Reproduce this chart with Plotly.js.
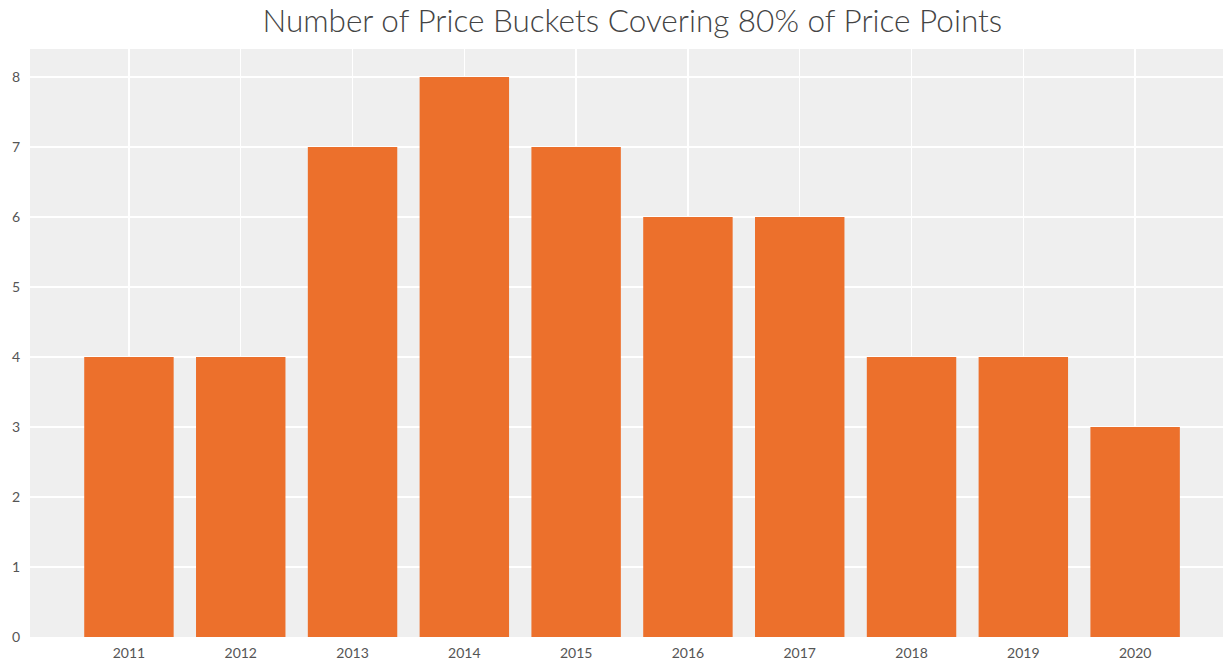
<!DOCTYPE html>
<html><head><meta charset="utf-8">
<script src="https://cdn.plot.ly/plotly-3.0.1.min.js"></script>
<style>html,body{margin:0;padding:0;background:#fff}</style>
</head><body>
<div id="chart" style="width:1223px;height:663px"></div>
<script>
const years = ["2011","2012","2013","2014","2015","2016","2017","2018","2019","2020"];
const buckets = [4,4,7,8,7,6,6,4,4,3];
const yTicks = [0,1,2,3,4,5,6,7,8];

Plotly.newPlot("chart", [{
  type: "bar",
  x: years,
  y: buckets,
  width: 0.8,
  marker: {color: "#EC702C"},
  hoverinfo: "x+y"
}], {
  width: 1223, height: 663,
  margin: {l: 30, r: 0, t: 49, b: 26, pad: 0},
  paper_bgcolor: "#ffffff",
  plot_bgcolor: "#EFEFEF",
  title: {text: "Number of Price Buckets Covering 80% of Price Points",
          font: {family: "Lato, 'Open Sans', sans-serif", size: 31.5, weight: 300, color: "#444"},
          x: 0.517, xanchor: "center", y: 0.968, yanchor: "middle"},
  xaxis: {type: "category", range: [-0.885, 9.786], showgrid: true, gridcolor: "#ffffff", gridwidth: 1.5,
          tickfont: {family: "Lato, 'Open Sans', sans-serif", size: 14, color: "#555"},
          ticklabelstandoff: 6,
          ticks: "", zeroline: false, fixedrange: true},
  yaxis: {range: [0, 8.4], tickvals: yTicks, showgrid: true, gridcolor: "#ffffff", gridwidth: 1.5,
          tickfont: {family: "Lato, 'Open Sans', sans-serif", size: 14, color: "#555"},
          ticklabelstandoff: 9,
          ticks: "", zeroline: false, fixedrange: true},
  showlegend: false
}, {displayModeBar: false, staticPlot: true});
</script>
</body></html>
